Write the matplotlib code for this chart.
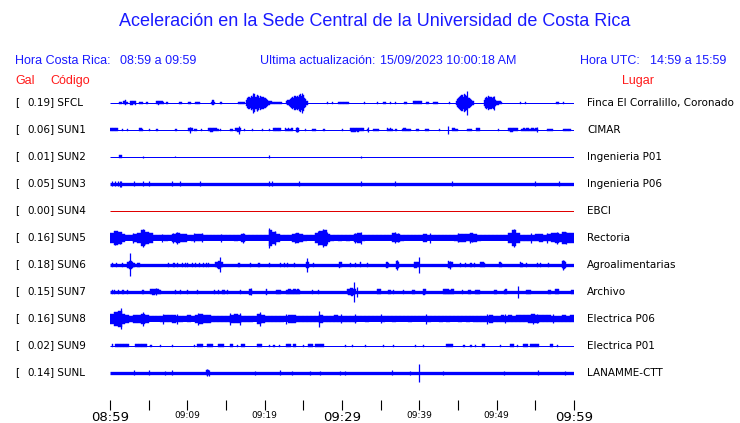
import matplotlib
matplotlib.use("Agg")
import matplotlib.pyplot as plt
import matplotlib.transforms as mtrans
import numpy as np

# stations (top to bottom)
codes = ['SFCL', 'SUN1', 'SUN2', 'SUN3', 'SUN4', 'SUN5', 'SUN6', 'SUN7', 'SUN8', 'SUN9', 'SUNL']
gal = [0.19, 0.06, 0.01, 0.05, 0.00, 0.16, 0.18, 0.15, 0.16, 0.02, 0.14]
places = ['Finca El Corralillo, Coronado', 'CIMAR', 'Ingenieria P01', 'Ingenieria P06', 'EBCI',
          'Rectoria', 'Agroalimentarias', 'Archivo', 'Electrica P06', 'Electrica P01', 'LANAMME-CTT']

tick_labels = ['08:59', '09:09', '09:19', '09:29', '09:39', '09:49', '09:59']

# trace amplitude (minutes since 08:59, half amplitude in px)
# bursts: (start minute, step in minutes, amplitudes)
sfcl_bursts = [
    (1.1, 0.2, [1, 1]), (1.7, 0.2, [1.5, 2.5, 1]), (2.6, 0.2, [2, 2, 1.5, 2]),
    (3.7, 0.2, [1, 1, 1]), (4.7, 0.2, [1]), (6.0, 0.2, [1.5, 2, 1.5, 1.5, 1]),
    (7.3, 0.15, [1]), (8.9, 0.2, [1, 1]), (10.1, 0.2, [1, 1]), (11.0, 0.2, [1, 1, 1]),
    (13.1, 0.15, [1, 2.5, 1]), (14.2, 0.15, [1, 1]), (16.6, 0.2, [1, 1, 1, 1]),
    (17.6, 0.15, [3, 5, 6, 5, 7, 6, 8, 9, 6, 8, 7, 5, 7, 6, 6, 5, 5, 4, 3, 2, 2, 1.5]),
    (21.0, 0.2, [1, 1, 1, 1, 1, 1]), (22.8, 0.15, [1.5, 2.5]),
    (23.1, 0.15, [3, 4, 5, 6, 5, 7, 6, 7, 6, 8, 9, 7, 8, 5, 4, 2, 2]),
    (28.0, 0.15, [1]), (28.7, 0.15, [1]), (29.5, 0.2, [1, 1, 1, 1, 1, 1, 1]),
    (32.8, 0.2, [1]), (34.5, 0.2, [1]), (35.3, 0.2, [1, 1]), (36.2, 0.2, [1]),
    (36.8, 0.2, [1]), (38.0, 0.2, [1, 1]), (39.2, 0.2, [1.5, 1.5, 1.5, 1.5, 1.5, 1.5]),
    (40.8, 0.2, [1, 1]), (41.8, 0.2, [1, 1, 1]), (43.8, 0.2, [1]),
    (44.7, 0.15, [2, 4, 5, 6, 7, 8, 6, 9, 8, 7, 6, 5, 4, 3, 2, 2]),
    (48.3, 0.15, [3, 5, 6, 5, 7, 6, 6, 5, 6, 4, 3, 2, 2, 1.5, 1.5, 1]),
    (53.0, 0.15, [1]), (53.7, 0.15, [1]), (57.7, 0.2, [1, 1]), (58.6, 0.15, [1]),
]
sfcl_spikes = [(18.5, 10), (19.0, 8), (24.8, 10), (46.1, 12), (49.6, 7)]

sun1_bursts = [
    (0.0, 0.2, [1.5, 1.5, 1.5, 1.5, 1.5]), (1.5, 0.15, [1]), (2.2, 0.15, [1]),
    (3.7, 0.2, [1.5, 1.5, 1]), (5.0, 0.15, [1]), (6.0, 0.15, [1]), (8.4, 0.2, [1]),
    (10.1, 0.2, [1.5, 1.5, 1.5]), (10.8, 0.2, [1, 1]), (11.8, 0.15, [1]),
    (12.7, 0.2, [1.5, 2, 2, 1.5, 1.5, 1.5, 1]), (14.2, 0.2, [1]), (15.5, 0.2, [1, 1]),
    (16.2, 0.2, [1.5, 2, 2, 1.5]), (17.3, 0.2, [1]), (18.3, 0.15, [1]), (19.6, 0.15, [1]),
    (20.5, 0.15, [1]), (21.1, 0.2, [1.5, 1.5, 1.5, 1.5, 1.5]),
    (22.6, 0.2, [1.5, 1, 1.5, 1, 1.5]), (24.0, 0.2, [2, 2]), (25.2, 0.15, [1]),
    (26.1, 0.2, [1, 1, 1]), (27.6, 0.15, [1]), (30.0, 0.15, [1]),
    (31.0, 0.2, [1.5, 2, 2, 2, 1.5, 2, 1.5, 1.5, 1.5]), (33.2, 0.15, [1]),
    (34.0, 0.2, [1, 1, 1, 1]), (35.8, 0.2, [1.5, 1, 1.5, 1]), (36.9, 0.15, [1]),
    (37.7, 0.2, [1, 1.5, 1.5, 1, 1, 1]), (39.6, 0.2, [1, 1]), (40.7, 0.2, [1, 1, 1]),
    (42.5, 0.15, [1]), (44.2, 0.2, [1.5, 1.5, 1, 1]), (46.2, 0.2, [1, 1, 1]),
    (47.3, 0.2, [1.5, 1.5, 1.5]), (50.2, 0.15, [1]), (51.5, 0.2, [1.5, 2, 2, 1.5, 1.5, 1.5]),
    (53.2, 0.2, [1, 1.5, 1, 1.5, 1.5, 1, 1.5, 1.5, 1, 1.5, 1]), (56.5, 0.2, [1, 1, 1, 1]),
    (58.6, 0.2, [1, 1, 1, 1, 1]),
]
sun1_spikes = [(10.3, 3), (16.7, 4), (24.2, 2.5), (33.3, 2.5), (43.7, 4), (55.2, 2.5)]

sun2_bursts = [(1.15, 0.4, [1.5])]
sun2_spikes = [(4.3, 1), (8.4, 0.7), (20.6, 1.5), (32.5, 1)]

sun3_bursts = []
sun3_spikes = [(0.3, 2.5), (0.6, 2.5), (1.0, 2.5), (1.3, 3), (1.45, 3), (3.1, 2.5), (4.3, 2.5),
               (5.1, 2.5), (8.0, 2.5), (9.1, 2.5), (11.6, 2.5), (20.6, 2.5), (21.0, 2.5),
               (24.4, 2.5), (32.4, 2.5), (36.8, 2.5), (44.2, 2.5), (54.9, 2.5), (58.1, 2.5)]

sun4_bursts = []
sun4_spikes = []

sun5_env = [5, 7, 6, 4, 2.5, 2.5, 4, 5, 8, 6, 5, 2.5, 2.5, 2.5, 3, 2.5, 4, 5, 4, 4,
            2.5, 3, 3.5, 3.5, 2.5, 2.5, 2.5, 2.5, 2.5, 2.5, 2.5, 2.5, 3, 2.5, 4, 2.5, 2.5, 2.5, 2.5, 2.5,
            2.5, 8, 6, 4, 2.5, 2.5, 2.5, 4, 5, 4, 3, 2.5, 2.5, 5, 7, 8, 4, 3, 2.5, 3,
            2.5, 3, 2.5, 4, 5, 3, 2.5, 2.5, 2.5, 2.5, 2.5, 2.5, 2.5, 4.5, 4, 3, 2.5, 2.5, 2.5, 2.5,
            2.5, 4, 2.5, 2.5, 2.5, 2.5, 2.5, 2.5, 2.5, 3, 4, 4, 3.5, 4.5, 4, 3, 2.5, 2.5, 2.5, 2.5,
            2.5, 2.5, 2.5, 5, 8, 5, 3, 3, 3, 3, 3.5, 4, 3, 3.5, 4.5, 5, 4, 6, 5, 5]
sun5_bursts = [(0.0, 0.5, sun5_env)]
sun5_spikes = [(0.65, 7), (1.3, 6), (3.0, 5), (4.3, 9), (4.5, 6), (6.7, 4), (8.2, 5), (8.6, 6),
               (10.8, 4.5), (11.9, 4.5), (14.4, 4), (17.2, 5), (20.6, 10), (21.3, 7), (23.9, 5),
               (26.9, 7), (27.6, 9), (28.0, 6), (31.7, 5), (32.4, 6), (36.9, 5.5), (37.3, 4.5),
               (41.4, 5), (45.0, 4.5), (46.6, 5), (46.8, 4.5), (52.3, 9), (54.5, 5), (56.5, 5),
               (57.8, 6), (59.0, 6)]

sun6_bursts = [
    (0.3, 0.15, [2]), (0.8, 0.15, [2]), (1.5, 0.15, [2]), (2.2, 0.2, [3, 4, 4, 3, 2]),
    (3.5, 0.2, [2, 2]), (7.5, 0.15, [2]), (8.2, 0.15, [2]), (8.7, 0.15, [2]), (9.3, 0.15, [2]),
    (9.7, 0.15, [2]), (10.0, 0.15, [2]), (10.6, 0.15, [2]), (11.0, 0.15, [2]), (11.5, 0.15, [2]),
    (12.0, 0.15, [2]), (12.4, 0.15, [2]), (12.7, 0.15, [2]), (13.6, 0.2, [2.5, 3, 4, 3, 2.5]),
    (16.6, 0.15, [2]), (18.1, 0.15, [2]), (19.2, 0.15, [2]), (20.5, 0.15, [2]), (22.0, 0.15, [2]),
    (22.5, 0.15, [2]), (22.9, 0.15, [2]), (23.8, 0.15, [2]), (25.3, 0.2, [3, 3]), (26.2, 0.15, [2]),
    (29.6, 0.2, [3, 2.5]), (31.0, 0.15, [2]), (31.7, 0.15, [2]), (32.3, 0.15, [2.5]),
    (33.2, 0.15, [2]), (35.7, 0.2, [3, 2]), (37.0, 0.2, [4, 3]), (39.3, 0.2, [3, 3, 2.5]),
    (43.7, 0.2, [3.5, 3, 2.5]), (45.2, 0.15, [2]), (45.9, 0.15, [2]), (46.6, 0.15, [2]),
    (47.1, 0.15, [2]), (47.9, 0.2, [2.5, 2.5, 2]), (50.3, 0.2, [2.5, 2]), (53.0, 0.2, [2.5, 2]),
    (53.8, 0.15, [2]), (55.2, 0.15, [2]), (55.6, 0.15, [2]), (56.6, 0.15, [2]),
    (58.4, 0.2, [3.5, 4, 3]),
]
sun6_spikes = [(2.6, 11.5), (14.2, 7.5), (25.5, 7), (37.1, 5), (39.9, 8), (44.0, 4), (58.6, 5)]

sun7_bursts = [
    (0.2, 0.15, [2]), (0.5, 0.15, [2]), (1.0, 0.15, [2]), (1.6, 0.15, [2]), (2.2, 0.15, [2]),
    (4.1, 0.15, [2, 2]), (5.2, 0.2, [2.5, 3, 3, 2.5, 2.5, 2.5, 2]), (8.4, 0.15, [2]),
    (9.0, 0.15, [2]), (9.9, 0.15, [2]), (11.2, 0.15, [2]), (13.4, 0.15, [2]), (14.0, 0.15, [2]),
    (14.5, 0.2, [2, 2]), (15.1, 0.15, [2]), (16.8, 0.15, [2]), (18.0, 0.2, [3, 2]),
    (20.2, 0.15, [3]), (21.5, 0.2, [2, 2, 2]), (22.8, 0.2, [2, 2.5, 2.5, 2, 2.5, 2.5, 2, 2.5, 2]),
    (26.1, 0.15, [2]), (26.9, 0.15, [2]), (30.6, 0.2, [2.5, 3, 3.5, 4, 3, 2.5]),
    (34.5, 0.2, [2.5, 2.5, 2.5]), (35.9, 0.2, [2, 2]), (36.6, 0.15, [2]), (37.9, 0.15, [2]),
    (39.0, 0.2, [2, 2]), (40.5, 0.2, [3, 2.5]), (43.1, 0.2, [2.5, 2.5, 2.5, 2.5, 2, 2.5, 2.5]),
    (45.5, 0.15, [2]), (46.3, 0.2, [2, 2]), (47.2, 0.2, [2, 2, 2]), (49.6, 0.2, [2, 2]),
    (50.9, 0.2, [2, 2.5]), (53.8, 0.2, [2, 2, 2]), (56.6, 0.2, [2, 2]), (57.6, 0.2, [2.5, 2.5]),
    (59.6, 0.2, [2, 2]),
]
sun7_spikes = [(6.0, 3.5), (18.2, 3.5), (31.5, 10), (32.0, 5), (52.8, 6)]

sun8_env = [5, 7, 8, 5, 4, 3, 4, 4, 5, 4, 2.5, 2.5, 2.5, 3, 3.5, 3.5, 4, 3, 3, 2.5,
            3.5, 2.5, 4, 5, 4, 4, 3, 3, 3, 3, 3, 4, 4.5, 4, 3, 3, 3, 2.5, 5, 4,
            3, 3, 3, 3, 3, 2.5, 4, 4, 3, 3, 3, 3, 3, 3, 4, 3, 3, 3, 3.5, 3,
            3, 3, 3, 3, 2.5, 2.5, 3, 2.5, 2.5, 2.5, 3, 2.5, 2.5, 3, 2.5, 2.5, 2.5, 3, 2.5, 2.5,
            2.5, 2.5, 3, 2.5, 2.5, 3, 2.5, 3, 2.5, 2.5, 3, 2.5, 3, 2.5, 3, 3, 3, 3, 4, 3,
            3, 3.5, 3, 3.5, 3, 3.5, 3.5, 3.5, 4, 4.5, 4, 3.5, 3.5, 3.5, 3, 3, 3, 3.5, 3, 3.5]
sun8_bursts = [(0.0, 0.5, sun8_env)]
sun8_spikes = [(1.4, 10.5), (4.3, 7), (6.9, 5), (8.6, 5), (11.4, 6), (15.5, 6), (16.8, 6),
               (19.4, 7), (22.8, 5), (27.0, 8), (29.9, 4.5), (31.7, 4.5), (35.1, 4.5),
               (40.9, 5), (48.7, 5), (51.1, 4.5), (54.7, 5), (55.2, 4.5), (57.3, 4.5)]

sun9_bursts = [
    (0.2, 0.2, [1.5]), (0.65, 0.2, [1.5, 1.5, 1.5, 1.5, 1.5, 1.5, 1.5, 1.5, 1.5]),
    (3.2, 0.2, [1.5, 1.5, 1.5, 1.5, 1.5, 1.5, 1.5, 1.5]), (5.2, 0.2, [1]), (6.5, 0.15, [1]),
    (8.0, 0.15, [1]), (10.8, 0.15, [1]), (11.2, 0.2, [1.5, 1.5, 1.5, 1.5]),
    (12.5, 0.2, [1.5, 1.5, 1.5, 1.5]), (14.0, 0.2, [1.5, 1.5, 1.5, 1.5]), (15.5, 0.2, [1.5, 1.5]),
    (16.4, 0.15, [1]), (17.0, 0.2, [1.5, 1.5]), (19.0, 0.2, [1.5, 1.5, 1.5]), (20.5, 0.15, [1]),
    (21.1, 0.2, [1]), (21.8, 0.15, [1]), (22.8, 0.2, [1.5, 1.5, 1.5]), (23.7, 0.2, [1.5, 1.5]),
    (25.0, 0.15, [1]), (25.6, 0.2, [1.5, 1.5, 1.5]), (26.5, 0.2, [1.5, 1.5, 1.5, 1.5, 1.5, 1.5]),
    (30.4, 0.15, [1]), (31.3, 0.15, [1]), (33.0, 0.15, [1]), (35.3, 0.15, [1]), (36.6, 0.15, [1]),
    (39.4, 0.15, [1]), (40.5, 0.15, [1]), (43.5, 0.2, [1.5, 1.5, 1.5, 1.5]), (45.7, 0.15, [1]),
    (46.6, 0.15, [1]), (47.2, 0.15, [1]), (48.1, 0.2, [1.5, 1.5]), (50.4, 0.2, [1]),
    (51.7, 0.2, [1.5, 1.5, 1.5]), (52.6, 0.2, [1]), (53.4, 0.2, [1.5, 1.5, 1.5]),
    (54.3, 0.2, [1.5, 1.5, 1.5, 1.5, 1.5, 1.5]), (56.9, 0.2, [1.5, 1.5]), (57.8, 0.15, [1]),
]
sun9_spikes = []

sunl_bursts = [(12.4, 0.2, [2.5, 2.5])]
sunl_spikes = [(3.1, 2.5), (5.1, 2.5), (7.1, 2), (8.0, 2.5), (12.5, 3.5), (12.8, 3), (18.7, 2),
               (22.0, 2.5), (23.5, 2), (25.9, 2), (27.2, 2), (29.7, 2), (30.4, 2), (36.5, 2.5),
               (38.8, 2), (40.0, 9), (43.1, 2), (50.9, 2), (55.4, 2.5), (58.8, 2)]

bursts = [sfcl_bursts, sun1_bursts, sun2_bursts, sun3_bursts, sun4_bursts, sun5_bursts,
          sun6_bursts, sun7_bursts, sun8_bursts, sun9_bursts, sunl_bursts]
spikes = [sfcl_spikes, sun1_spikes, sun2_spikes, sun3_spikes, sun4_spikes, sun5_spikes,
          sun6_spikes, sun7_spikes, sun8_spikes, sun9_spikes, sunl_spikes]

# baseline thickness in px, trace colour
base_px = [1, 1, 1, 3.3, 1, 5, 3.3, 3.3, 5, 1, 3.3]
trace_col = ['#0000ff'] * 11
trace_col[4] = '#e00000'

W, H = 740, 423
fig = plt.figure(figsize=(W / 100, H / 100), dpi=100)
ax = fig.add_axes([110 / W, 1 - 400 / H, (574 - 110) / W, (400 - 88) / H])
ax.set_xlim(0, 60)
ax.set_ylim(400, 88)   # y in pixel rows

blue = '#1a1aff'
red = '#ff1a1a'
tr = mtrans.blended_transform_factory(fig.transFigure, ax.transData)
for i in range(len(codes)):
    yc = 102.5 + 27 * i
    c = trace_col[i]
    ax.hlines(yc, 0, 60, color=c, lw=base_px[i] * 0.72)
    for t0, dt, amps in bursts[i]:
        amps = np.array(amps, dtype=float)
        xs = t0 + dt * np.arange(len(amps))
        ax.bar(xs, 2 * amps, width=dt, bottom=yc - amps, align='edge',
               color=c, edgecolor=c, linewidth=0.3)
    for t, a in spikes[i]:
        ax.vlines(t, yc - a, yc + a, color=c, lw=0.9)

    ax.text(15 / W, yc, '[', transform=tr, ha='left', va='center', fontsize=7.5)
    ax.text(50 / W, yc, '%.2f' % gal[i], transform=tr, ha='right', va='center', fontsize=7.5)
    ax.text(50.5 / W, yc, '] ' + codes[i], transform=tr, ha='left', va='center', fontsize=7.5)
    ax.text(587 / W, yc, places[i], transform=tr, ha='left', va='center', fontsize=7.5)

for s in ax.spines.values():
    s.set_visible(False)
ax.set_yticks([])
ax.set_xticks(np.arange(0, 61, 5))
labels = []
for k in range(13):
    labels.append(tick_labels[k // 2] if k % 2 == 0 else '')
ax.set_xticklabels(labels)
ax.tick_params(axis='x', direction='out', length=7.2, width=0.8, pad=0.5, color='black')
for k, lab in enumerate(ax.get_xticklabels()):
    if k in (0, 6, 12):
        lab.set_fontsize(9.5)
    else:
        lab.set_fontsize(6.5)

hf = 'Liberation Sans'
fig.text(375 / W, 1 - 22 / H, 'Aceleración en la Sede Central de la Universidad de Costa Rica',
         ha='center', va='center', color=blue, fontsize=13, family=hf)
hy = 1 - 61 / H
fig.text(15 / W, hy, 'Hora Costa Rica:', color=blue, fontsize=9, family=hf, va='center')
fig.text(120 / W, hy, '08:59 a 09:59', color=blue, fontsize=9, family=hf, va='center')
fig.text(260 / W, hy, 'Ultima actualización:', color=blue, fontsize=9, family=hf, va='center')
fig.text(380 / W, hy, '15/09/2023 10:00:18 AM', color=blue, fontsize=9, family=hf, va='center')
fig.text(580 / W, hy, 'Hora UTC:', color=blue, fontsize=9, family=hf, va='center')
fig.text(650 / W, hy, '14:59 a 15:59', color=blue, fontsize=9, family=hf, va='center')
gy = 1 - 81 / H
fig.text(15 / W, gy, 'Gal', color=red, fontsize=9, family=hf, va='center')
fig.text(50 / W, gy, 'Código', color=red, fontsize=9, family=hf, va='center')
fig.text(622 / W, gy, 'Lugar', color=red, fontsize=9, family=hf, va='center')

fig.savefig('out.png', dpi=100)
